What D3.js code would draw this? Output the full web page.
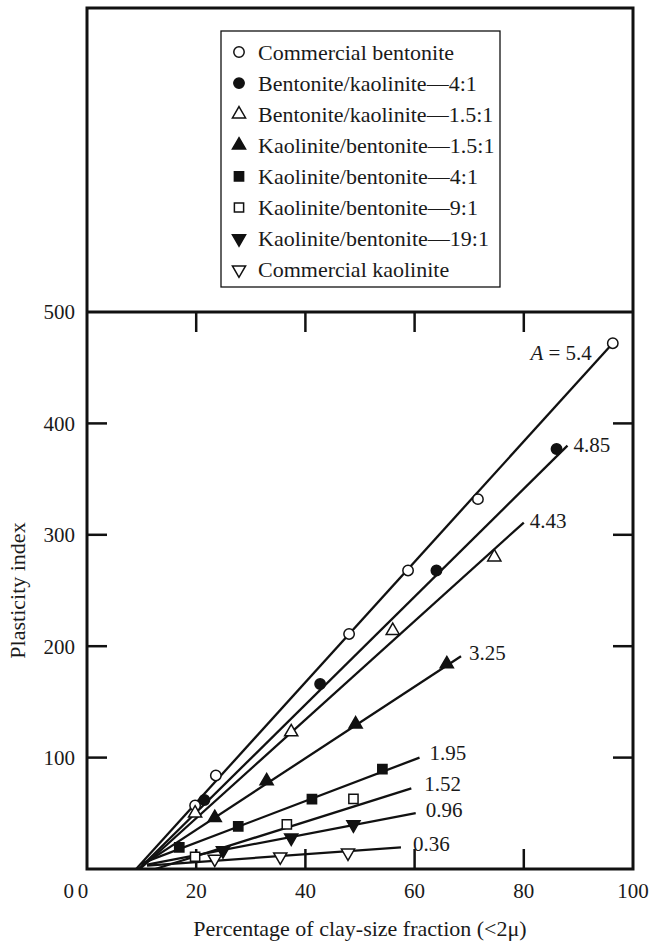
<!DOCTYPE html>
<html>
<head>
<meta charset="utf-8">
<script src="https://cdn.jsdelivr.net/npm/d3@7.9.0/dist/d3.min.js"></script>
<style>
  body { margin: 0; background: #fff; }
  svg { display: block; }
</style>
</head>
<body>
<svg id="chart" width="652" height="942"></svg>
<script>
// series names (legend order)
const seriesNames = [
  'Commercial bentonite',
  'Bentonite/kaolinite\u20144:1',
  'Bentonite/kaolinite\u20141.5:1',
  'Kaolinite/bentonite\u20141.5:1',
  'Kaolinite/bentonite\u20144:1',
  'Kaolinite/bentonite\u20149:1',
  'Kaolinite/bentonite\u201419:1',
  'Commercial kaolinite'
];

// measured points: clay fraction (%) and plasticity index
const clayPct = [
  [19.8, 23.6, 48, 58.8, 71.6, 96.3],
  [21.5, 42.7, 64, 86],
  [19.8, 37.4, 56, 74.6],
  [23.4, 32.9, 49.2, 65.9],
  [16.9, 27.7, 41.2, 54.1],
  [19.8, 36.6, 48.8],
  [24.9, 37.4, 48.8],
  [23.4, 35.4, 47.8]
];
const plasticity = [
  [57, 84, 211, 268, 332, 472],
  [62, 166, 268, 377],
  [50, 123, 214, 280],
  [46, 79, 130, 184],
  [19.4, 38.3, 62.8, 89.7],
  [11, 40, 63],
  [16.5, 28, 39.8],
  [9, 11, 14.5]
];

// fitted lines (activity A) : start and end points
const activity = ['5.4', '4.85', '4.43', '3.25', '1.95', '1.52', '0.96', '0.36'];
const lineX0 = [9, 9.5, 9.7, 10, 10, 12.5, 11, 11];
const lineY0 = [0, 0, 0, 3, 5, 0, 4, 3];
const lineX1 = [96.3, 88, 80, 68.5, 60.9, 59.4, 60.2, 57.5];
const lineY1 = [472, 380, 311, 191, 100, 72.3, 50.2, 19.4];

const xTicks = [0, 20, 40, 60, 80, 100];
const yTicks = [0, 100, 200, 300, 400, 500];

// ---- layout
const plotLeft = 87, plotRight = 633, plotTop = 8, plotBottom = 869;
const serif = "'Liberation Serif', 'Times New Roman', 'DejaVu Serif', serif";
const svg = d3.select('#chart')
  .attr('font-family', serif)
  .style('font-family', serif);

const x = d3.scaleLinear().domain([0, 100]).range([plotLeft, plotRight]);
const y = d3.scaleLinear().domain([0, 500]).range([plotBottom, 312]);

// marker shapes per series
const shapes = [
  { type: d3.symbolCircle, fill: false, rot: 0, size: 85 },
  { type: d3.symbolCircle, fill: true, rot: 0, size: 85 },
  { type: d3.symbolTriangle, fill: false, rot: 0, size: 75 },
  { type: d3.symbolTriangle, fill: true, rot: 0, size: 75 },
  { type: d3.symbolSquare, fill: true, rot: 0, size: 85 },
  { type: d3.symbolSquare, fill: false, rot: 0, size: 85 },
  { type: d3.symbolTriangle, fill: true, rot: 180, size: 75 },
  { type: d3.symbolTriangle, fill: false, rot: 180, size: 75 }
];

function drawMarker(g, i, cx, cy) {
  const s = shapes[i];
  g.append('path')
    .attr('d', d3.symbol().type(s.type).size(s.size)())
    .attr('transform', `translate(${cx},${cy}) rotate(${s.rot})`)
    .attr('fill', s.fill ? '#111' : '#fff')
    .attr('stroke', '#111')
    .attr('stroke-width', 1.5);
}

// ---- frame
svg.append('rect')
  .attr('x', plotLeft).attr('y', plotTop)
  .attr('width', plotRight - plotLeft).attr('height', plotBottom - plotTop)
  .attr('fill', 'none').attr('stroke', '#111').attr('stroke-width', 3);

svg.append('line')
  .attr('x1', plotLeft).attr('x2', plotRight)
  .attr('y1', y(500)).attr('y2', y(500))
  .attr('stroke', '#111').attr('stroke-width', 3);

// inward ticks
const tickLen = 20;
const ticks = svg.append('g').attr('stroke', '#111').attr('stroke-width', 2.5);
yTicks.filter(d => d > 0 && d < 500).forEach(d => {
  ticks.append('line').attr('x1', plotLeft).attr('x2', plotLeft + tickLen).attr('y1', y(d)).attr('y2', y(d));
  ticks.append('line').attr('x1', plotRight).attr('x2', plotRight - tickLen).attr('y1', y(d)).attr('y2', y(d));
});
xTicks.filter(d => d > 0 && d < 100).forEach(d => {
  ticks.append('line').attr('x1', x(d)).attr('x2', x(d)).attr('y1', y(500)).attr('y2', y(500) + tickLen);
  ticks.append('line').attr('x1', x(d)).attr('x2', x(d)).attr('y1', y(0)).attr('y2', y(0) - tickLen);
});

// tick labels
svg.append('g').selectAll('text')
  .data(yTicks.filter(d => d > 0))
  .join('text')
  .attr('x', 75).attr('y', d => y(d))
  .attr('dy', '0.35em')
  .attr('text-anchor', 'end')
  .attr('font-size', 21)
  .attr('fill', '#1a1a1a')
  .text(d => d);

svg.append('text')
  .attr('x', 74).attr('y', 891).attr('dy', '0.35em')
  .attr('text-anchor', 'end').attr('font-size', 21).attr('fill', '#1a1a1a').text('0');

svg.append('g').selectAll('text')
  .data(xTicks)
  .join('text')
  .attr('x', d => d === 0 ? x(d) - 4 : x(d))
  .attr('y', 891).attr('dy', '0.35em')
  .attr('text-anchor', 'middle')
  .attr('font-size', 21)
  .attr('fill', '#1a1a1a')
  .text(d => d);

// axis titles
svg.append('text')
  .attr('x', (plotLeft + plotRight) / 2).attr('y', 928).attr('dy', '0.35em')
  .attr('text-anchor', 'middle').attr('font-size', 22).attr('fill', '#1a1a1a')
  .text('Percentage of clay-size fraction (<2\u03bc)');

svg.append('text')
  .attr('transform', `translate(17,${(y(0) + y(500)) / 2}) rotate(-90)`)
  .attr('dy', '0.35em')
  .attr('text-anchor', 'middle').attr('font-size', 22).attr('fill', '#1a1a1a')
  .text('Plasticity index');

// ---- fitted lines
const lines = svg.append('g');
activity.forEach((a, i) => {
  lines.append('line')
    .attr('x1', x(lineX0[i])).attr('y1', y(lineY0[i]))
    .attr('x2', x(lineX1[i])).attr('y2', y(lineY1[i]))
    .attr('stroke', '#111').attr('stroke-width', 2.3);
});

// activity labels, offsets from line end
const labelDx = [-21, 6, 6, 8, 10, 13, 10, 12];
const labelDy = [9, -1, -2, -4, -5, -5, -3, -4];
activity.forEach((a, i) => {
  const t = svg.append('text')
    .attr('x', x(lineX1[i]) + labelDx[i])
    .attr('y', y(lineY1[i]) + labelDy[i])
    .attr('dy', '0.35em')
    .attr('font-size', 21)
    .attr('fill', '#1a1a1a')
    .attr('text-anchor', i === 0 ? 'end' : 'start');
  if (i === 0) {
    t.append('tspan').attr('font-style', 'italic').text('A');
    t.append('tspan').text(' = ' + a);
  } else {
    t.text(a);
  }
});

// ---- points
const pts = svg.append('g');
seriesNames.forEach((name, i) => {
  clayPct[i].forEach((c, j) => drawMarker(pts, i, x(c), y(plasticity[i][j])));
});

// ---- legend
const lg = svg.append('g');
lg.append('rect')
  .attr('x', 221).attr('y', 31).attr('width', 279).attr('height', 256)
  .attr('fill', '#fff').attr('stroke', '#111').attr('stroke-width', 1.3);
seriesNames.forEach((name, i) => {
  const cy = 52 + i * 31.1;
  drawMarker(lg, i, 239, cy);
  lg.append('text')
    .attr('x', 258).attr('y', cy).attr('dy', '0.35em')
    .attr('font-size', 22)
    .attr('fill', '#1a1a1a')
    .text(name);
});
</script>
</body>
</html>
